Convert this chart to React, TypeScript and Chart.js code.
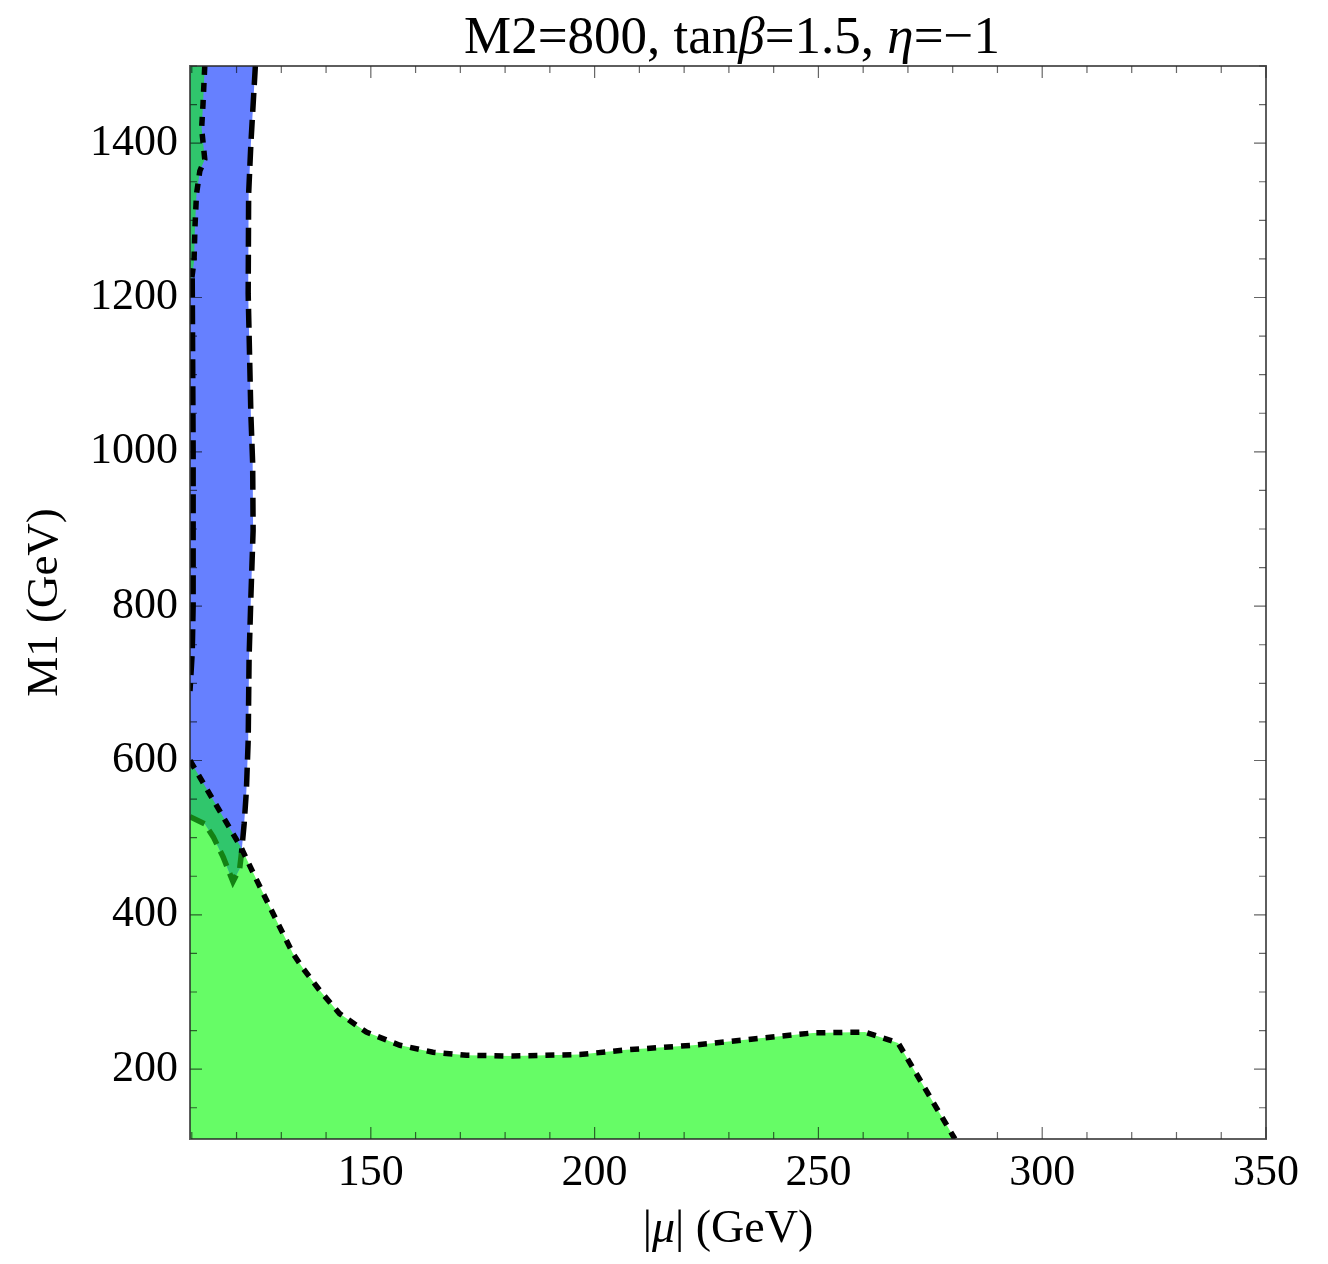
import React, { useEffect, useRef } from "react";
import { Chart, registerables } from "chart.js";

Chart.register(...registerables);

// axis limits
const X_MIN = 109.6;
const X_MAX = 350;
const Y_MIN = 109.5;
const Y_MAX = 1500;

const xTickValues = [150, 200, 250, 300, 350];
const yTickValues = [200, 400, 600, 800, 1000, 1200, 1400];

// lower green region boundary (black dotted)
const greenEdgeMu = [109.6, 120.95, 124.5, 128.9, 132.6, 134.8, 138.6, 143.0, 149.0, 156.5, 163.9, 171.4, 181.7, 196.7, 207.1, 222.0, 236.9, 248.8, 260.4, 267.8, 280.5];
const greenEdgeM1 = [600, 488, 445, 393, 350, 331, 302, 272, 248, 231, 222, 218, 217, 219, 225, 231, 240, 247, 248, 234, 109.5];

// upper green strip boundary (black dotted)
const stripEdgeMu = [112.9, 112.5, 112.2, 112.9, 111.8, 111.05, 110.7, 110.5, 110.0];
const stripEdgeM1 = [1500, 1450, 1419, 1379, 1364, 1334, 1290, 1247, 1225];

// blue region right edge (black dashed)
const blueRightMu = [124.2, 123.2, 122.7, 122.6, 123.2, 123.6, 123.7, 123.2, 122.8, 122.6, 122.2, 121.7, 121.1];
const blueRightM1 = [1500, 1399, 1334, 1205, 1049, 985, 898, 811, 733, 626, 561, 518, 480];

// blue region left edge (black dashed)
const blueLeftMu = [110.1, 110.3, 110.3, 110.1, 109.6];
const blueLeftM1 = [1225, 1000, 800, 740, 690];

// blue region lower edge (dark green dashed)
const blueLowMu = [109.6, 112.9, 114.8, 117.0, 119.2, 120.7, 121.1];
const blueLowM1 = [527, 518, 501, 475, 443, 460, 480];

const FONT = "'Liberation Serif', 'Times New Roman', serif";

const pts = (xs: number[], ys: number[]) => xs.map((x, i) => ({ x, y: ys[i] }));

type Seg = [string, boolean];

function drawMixed(ctx: CanvasRenderingContext2D, segs: Seg[], cx: number, baseY: number, size: number) {
  const fontOf = (it: boolean) => `${it ? "italic " : ""}${size}px ${FONT}`;
  let total = 0;
  const widths = segs.map(([t, it]) => {
    ctx.font = fontOf(it);
    const w = ctx.measureText(t).width;
    total += w;
    return w;
  });
  let x = cx - total / 2;
  ctx.fillStyle = "#000";
  ctx.textAlign = "left";
  ctx.textBaseline = "alphabetic";
  segs.forEach(([t, it], i) => {
    ctx.font = fontOf(it);
    ctx.fillText(t, x, baseY);
    x += widths[i];
  });
}

const titleSegs: Seg[] = [["M2=800, tan", false], ["β", true], ["=1.5, ", false], ["η", true], ["=−1", false]];
const xLabelSegs: Seg[] = [["|", false], ["μ", true], ["| (GeV)", false]];

const decorPlugin = {
  id: "decor",
  afterDatasetsDraw(chart: any) {
    const { ctx, chartArea: a, scales } = chart;
    const xs = scales.x;
    const ys = scales.y;
    ctx.save();
    ctx.strokeStyle = "rgba(0,0,0,0.6)";
    ctx.lineWidth = 1.2;
    const major = 12;
    const minor = 7;
    ctx.beginPath();
    for (let v = 110; v <= X_MAX; v += 10) {
      const px = xs.getPixelForValue(v);
      const len = v % 50 === 0 ? major : minor;
      ctx.moveTo(px, a.bottom);
      ctx.lineTo(px, a.bottom - len);
      ctx.moveTo(px, a.top);
      ctx.lineTo(px, a.top + len);
    }
    for (let v = 150; v <= Y_MAX; v += 50) {
      const py = ys.getPixelForValue(v);
      const len = v % 200 === 0 ? major : minor;
      ctx.moveTo(a.left, py);
      ctx.lineTo(a.left + len, py);
      ctx.moveTo(a.right, py);
      ctx.lineTo(a.right - len, py);
    }
    ctx.stroke();
    ctx.strokeStyle = "rgba(40,40,40,0.75)";
    ctx.lineWidth = 2;
    ctx.strokeRect(a.left, a.top, a.right - a.left, a.bottom - a.top);
    ctx.restore();
  },
  afterDraw(chart: any) {
    const { ctx, chartArea: a } = chart;
    ctx.save();
    const cx = (a.left + a.right) / 2;
    drawMixed(ctx, titleSegs, cx + 4, 45, 53);
    drawMixed(ctx, xLabelSegs, cx, 1234, 46);
    ctx.restore();
  },
};

export default function App() {
  const ref = useRef<HTMLCanvasElement>(null);
  useEffect(() => {
    if (!ref.current) return;
    const green = pts(greenEdgeMu, greenEdgeM1);
    const strip = pts(stripEdgeMu, stripEdgeM1);
    const blueRight = pts(blueRightMu, blueRightM1);
    const blueLeft = pts(blueLeftMu, blueLeftM1);
    const blueLow = pts(blueLowMu, blueLowM1);
    const blueLowRev = [...blueLow].reverse();

    const bluePoly = [{ x: X_MIN, y: Y_MAX }, ...blueRight, ...blueLowRev];
    const greenPoly = [{ x: X_MIN, y: Y_MIN }, ...green];
    const overlapLow = [green[0], green[1], ...blueLowRev];
    const overlapTop = [{ x: X_MIN, y: Y_MAX }, ...strip, { x: X_MIN, y: strip[strip.length - 1].y }];

    const poly = (data: any[], color: string, order: number) => ({
      data,
      showLine: true,
      fill: "shape",
      backgroundColor: color,
      borderWidth: 0,
      borderColor: "rgba(0,0,0,0)",
      pointRadius: 0,
      order,
    });
    const line = (data: any[], color: string, dash: number[], width: number, order: number) => ({
      data,
      showLine: true,
      fill: false,
      borderColor: color,
      borderWidth: width,
      borderDash: dash,
      borderCapStyle: "butt",
      borderJoinStyle: "miter",
      pointRadius: 0,
      order,
    });

    const chart = new Chart(ref.current, {
      type: "scatter",
      data: {
        datasets: [
          poly(greenPoly, "rgb(102,252,102)", 20),
          poly(bluePoly, "rgb(102,128,255)", 19),
          poly(overlapLow, "rgb(48,198,108)", 18),
          poly(overlapTop, "rgb(48,198,108)", 17),
          line(blueLow, "rgb(20,130,20)", [16, 8], 5.5, 5),
          line(blueRight, "#000", [19, 8], 5.5, 4),
          line(blueLeft, "#000", [19, 8], 5.5, 3),
          line(green, "#000", [9, 8], 5.5, 2),
          line(strip, "#000", [9, 8], 5.5, 1),
        ] as any,
      },
      options: {
        animation: false,
        responsive: false,
        devicePixelRatio: 1,
        layout: { padding: { left: 0, top: 58, right: 54, bottom: 0 } },
        plugins: {
          legend: { display: false },
          title: { display: false },
          tooltip: { enabled: false },
        },
        scales: {
          x: {
            type: "linear",
            position: "bottom",
            min: X_MIN,
            max: X_MAX,
            grid: { display: false, drawTicks: false },
            border: { display: false },
            afterBuildTicks: (s: any) => {
              s.ticks = xTickValues.map((v) => ({ value: v }));
            },
            afterFit: (s: any) => {
              s.height = 117;
            },
            ticks: {
              padding: 8,
              maxRotation: 0,
              autoSkip: false,
              color: "#000",
              font: { family: FONT, size: 44 },
              callback: (v: any) => String(v),
            },
          },
          y: {
            type: "linear",
            position: "left",
            min: Y_MIN,
            max: Y_MAX,
            grid: { display: false, drawTicks: false },
            border: { display: false },
            afterBuildTicks: (s: any) => {
              s.ticks = yTickValues.map((v) => ({ value: v }));
            },
            afterFit: (s: any) => {
              s.width = 182;
            },
            ticks: {
              padding: 12,
              autoSkip: false,
              color: "#000",
              font: { family: FONT, size: 44 },
              callback: (v: any) => String(v),
            },
            title: {
              display: true,
              text: "M1 (GeV)",
              color: "#000",
              font: { family: FONT, size: 45 },
              padding: { top: 10, bottom: 0 },
            },
          },
        },
      },
      plugins: [decorPlugin],
    } as any);
    return () => chart.destroy();
  }, []);

  return (
    <div style={{ width: 1312, height: 1248 }}>
      <canvas ref={ref} width={1312} height={1248} style={{ display: "block", width: 1312, height: 1248 }} />
    </div>
  );
}
